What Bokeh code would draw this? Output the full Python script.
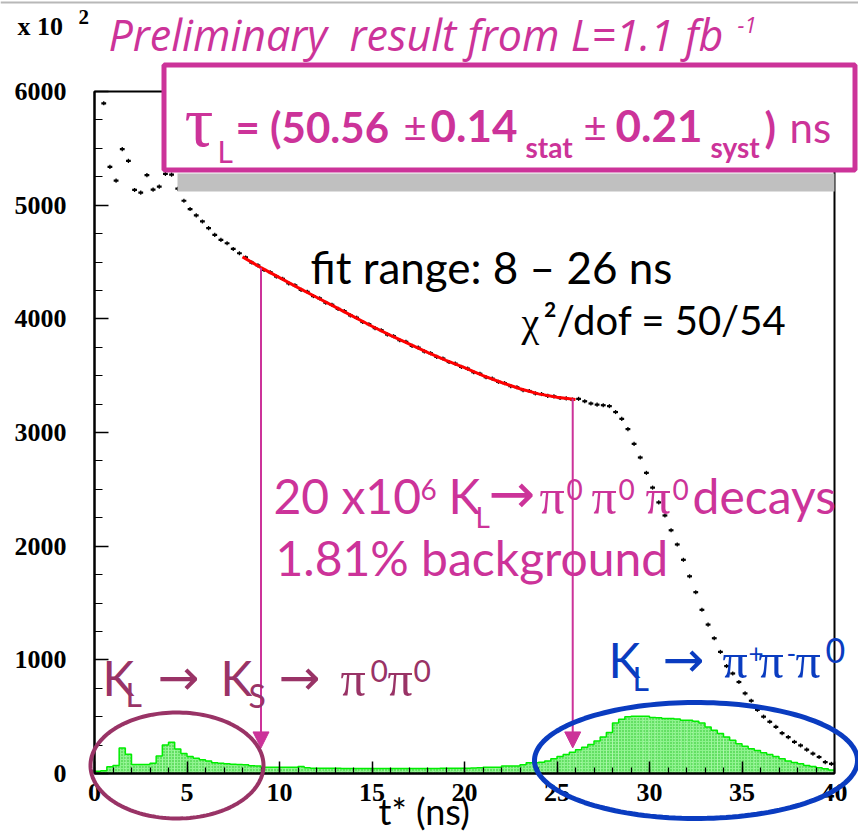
import numpy as np
from bokeh.plotting import figure
from bokeh.models import (Range1d, FixedTicker, Label, BoxAnnotation,
                          PolyAnnotation, Arrow, NormalHead)
from bokeh.embed import file_html
from bokeh.resources import INLINE

# ---------------- data ----------------
BIN_W = 1.0 / 3.0          # ns per bin
# K_L -> 3pi0 candidates, bins 1..119 (units of 10^2 events)
kl_counts = [
    5896, 5337, 5216, 5493, 5390, 5134, 5110, 5264, 5137, 5163, 5275, 5269,
    5145, 5039, 4966, 4910, 4857, 4798, 4739, 4695, 4665, 4615, 4577,
    4540, 4495, 4470, 4430, 4410, 4372, 4352, 4312, 4295, 4255, 4238, 4200,
    4180, 4142, 4124, 4088, 4068, 4030, 4010, 3972, 3953, 3918, 3900, 3862,
    3847, 3812, 3798, 3762, 3747, 3713, 3697, 3665, 3651, 3620, 3606, 3577,
    3562, 3530, 3517, 3486, 3474, 3446, 3434, 3408, 3398, 3373, 3365, 3344,
    3338, 3322, 3318, 3303, 3300, 3290,
    3296, 3275, 3255, 3245, 3240, 3232, 3180, 3120, 3030, 2900, 2780, 2645,
    2515, 2385, 2270, 2140, 2015, 1880, 1735, 1595, 1440, 1310, 1190, 1070,
    945, 880, 805, 705, 640, 560, 500, 455, 410, 355, 320, 278, 247, 210,
    175, 145, 100, 85]
# background (green histogram), bins 0..119
bkg_counts = [
    20, 25, 60, 70, 225, 170, 80, 80, 80, 90, 155, 250, 275, 215, 175, 150,
    135, 120, 110, 95, 90, 85, 82, 80, 78, 68, 65, 56, 56, 56, 56, 56, 56, 62,
    50,
    47, 47, 46, 46, 46, 45, 45, 45, 45, 45, 44, 44, 44, 44, 44, 44, 45, 45,
    45, 45, 45, 46, 46, 46, 47, 47, 48, 50,
    56, 56, 56, 65, 65, 65, 77, 95, 95, 100, 109, 130, 150, 168, 188, 209,
    232, 256, 285, 321, 360, 444, 477, 500, 504, 504, 504, 492, 490, 483, 483,
    480, 468, 468, 460, 444, 409, 380, 351, 321, 292, 262, 239, 218, 203, 183,
    168, 150, 130, 109, 97, 86, 71, 62, 50, 41, 30]
# fitted curve (red), 8 - 26 ns
fit_t = [8.0, 9, 10, 11, 12, 13, 14, 15, 16, 17, 18, 19, 20, 21, 22, 23, 24,
         25, 26]
fit_v = [4545, 4450, 4362, 4275, 4190, 4105, 4020, 3935, 3855, 3780, 3705,
         3635, 3570, 3500, 3440, 3385, 3340, 3310, 3290]
x_ticks = [0, 5, 10, 15, 20, 25, 30, 35, 40]
x_minor = list(range(0, 41))
y_ticks = [0, 1000, 2000, 3000, 4000, 5000, 6000]
y_minor = list(range(0, 6001, 250))
X_LIM = (0, 40)
Y_LIM = (0, 6000)
arrow_t = [9.0, 25.85]
arrow_top = [4450, 3296]
arrow_tip = 225

MAG = "#CC3399"
PUR = "#993366"
BLU = "#0A3CC0"

# ---------------- geometry of the page ----------------
W, H = 858, 838          # figure size (page has no margin in Bokeh's template)
PX0, PX1 = 94.0, 834.0   # page x of t=0 and t=40
PY0, PY1 = 773.0, 91.0   # page y of 0 and 6000


def dx(X):
    return X_LIM[0] + (X - PX0) * (X_LIM[1] - X_LIM[0]) / (PX1 - PX0)


def dy(Y):
    return Y_LIM[0] + (PY0 - Y) * (Y_LIM[1] - Y_LIM[0]) / (PY0 - PY1)


p = figure(width=W, height=H,
           x_range=Range1d(dx(0), dx(W)),
           y_range=Range1d(dy(H), dy(0)),
           output_backend="svg", toolbar_location=None,
           min_border_left=0, min_border_right=0, min_border_top=0,
           min_border_bottom=0)
p.grid.visible = False
p.outline_line_color = None
p.background_fill_color = "white"
p.border_fill_color = "white"

# green background histogram
edges = np.arange(len(bkg_counts) + 1) * BIN_W
bkg = np.array(bkg_counts, dtype=float)
p.quad(left=edges[:-1], right=edges[1:], bottom=0, top=bkg,
       fill_color="#8ef38e", line_color=None,
       hatch_pattern="dot", hatch_color="#22c022", hatch_scale=3,
       hatch_weight=1)
p.step(x=edges, y=np.append(bkg, bkg[-1]), mode="after",
       line_color="#00ee00", line_width=1.5)

# black data points
centers = (np.arange(1, len(kl_counts) + 1) + 0.5) * BIN_W
vals = np.array(kl_counts, dtype=float)
p.segment(x0=centers - 0.13, x1=centers + 0.13, y0=vals, y1=vals,
          line_color="black", line_width=2.2)
p.segment(x0=centers, x1=centers, y0=vals - 18, y1=vals + 18,
          line_color="black", line_width=1.3)

# red fit
p.line(fit_t, fit_v, line_color="red", line_width=3)

# axes, fixed at the data origin
xa = p.xaxis[0]
xa.ticker = FixedTicker(ticks=x_ticks, minor_ticks=x_minor)
xa.fixed_location = Y_LIM[0]
xa.bounds = X_LIM
ya = p.yaxis[0]
ya.ticker = FixedTicker(ticks=y_ticks, minor_ticks=y_minor)
ya.fixed_location = X_LIM[0]
ya.bounds = Y_LIM
for ax, mi, mn, so in ((xa, 12, 6, 10), (ya, 14, 8, 28)):
    ax.axis_line_width = 2
    ax.axis_line_color = "black"
    ax.major_tick_in = mi
    ax.major_tick_out = 0
    ax.minor_tick_in = mn
    ax.minor_tick_out = 0
    ax.major_tick_line_width = 1.5
    ax.minor_tick_line_width = 1.2
    ax.major_tick_line_color = "black"
    ax.minor_tick_line_color = "black"
    ax.major_label_text_font = "Liberation Serif"
    ax.major_label_text_font_style = "bold"
    ax.major_label_text_font_size = "26px"
    ax.major_label_text_color = "black"
    ax.major_label_standoff = so

# plot frame (top / right edges)
p.add_layout(BoxAnnotation(left=X_LIM[0], right=X_LIM[1], bottom=Y_LIM[0],
                           top=Y_LIM[1], fill_alpha=0, line_color="black",
                           line_alpha=1, line_width=2))
# thin grey slide line at the very top
p.add_layout(BoxAnnotation(left=dx(0), right=dx(W), top=dy(1), bottom=dy(3),
                           fill_color="#b8b8b8", fill_alpha=1, line_alpha=0))

# arrows
for t, top in zip(arrow_t, arrow_top):
    p.add_layout(Arrow(x_start=t, y_start=top, x_end=t, y_end=arrow_tip,
                       line_color=MAG, line_width=2,
                       end=NormalHead(size=16, fill_color=MAG, line_color=MAG)))

# ellipses
th = np.linspace(0, 2 * np.pi, 160)
for cx, cy, a, b, col, lw in ((176.5, 765, 86.5, 53, PUR, 4),
                              (695.5, 760, 161.5, 58, BLU, 5)):
    XX = cx + a * np.cos(th)
    YY = cy + b * np.sin(th)
    p.add_layout(PolyAnnotation(xs=list(dx(XX)), ys=list(dy(YY)),
                                fill_alpha=0, line_color=col, line_alpha=1,
                                line_width=lw))

# grey shadow and result box
p.add_layout(BoxAnnotation(left=dx(177), right=dx(834), top=dy(173),
                           bottom=dy(191), fill_color="#c0c0c0", fill_alpha=1,
                           line_alpha=0))
p.add_layout(BoxAnnotation(left=dx(163.5), right=dx(854.5), top=dy(64.5),
                           bottom=dy(169.5), fill_color="white", fill_alpha=1,
                           line_color=MAG, line_alpha=1, line_width=5))

# baseline correction: labels are rendered centred on their y
SHIFT = {"Lato": 0.38, "Open Sans": 0.38, "Liberation Serif": 0.33,
         "DejaVu Sans": 0.35}


def lab(text, X, Y, size, color, style="normal", font="Lato"):
    s = float(size.replace("px", ""))
    Yc = Y - SHIFT[font] * s
    p.add_layout(Label(x=dx(X), y=dy(Yc), text=text, text_font=font,
                       text_font_size=size, text_font_style=style,
                       text_color=color, text_align="left",
                       text_baseline="alphabetic"))


SERIF = "Liberation Serif"
ARR = "DejaVu Sans"
# title & scale
lab("x 10", 17, 35, "26px", "black", "bold", SERIF)
lab("2", 78, 23, "21px", "black", "bold", SERIF)
lab("Preliminary\u00a0 result from L=1.1 fb", 108, 50, "43px", MAG, "italic",
    "Open Sans")
lab("-1", 737, 33, "22px", MAG, "italic", "Open Sans")

# box contents
lab("\u03c4", 184, 145, "72px", MAG, "normal", SERIF)
lab("L", 217, 162, "30px", MAG)
lab("= (50.56", 235, 142, "42px", MAG, "bold")
lab("\u00b1", 403, 142, "40px", MAG)
lab("0.14", 430, 142, "44px", MAG, "bold")
lab("stat", 525, 157, "28px", MAG, "bold")
lab("\u00b1", 583, 142, "40px", MAG)
lab("0.21", 615, 142, "44px", MAG, "bold")
lab("syst", 710, 157, "28px", MAG, "bold")
lab(")", 764, 142, "42px", MAG, "bold")
lab("ns", 789, 142, "42px", MAG)

# fit text
lab("fit range: 8 \u2013 26 ns", 310, 283, "44px", "black")
lab("\u03c7", 521, 335, "40px", "black", "normal", SERIF)
lab("\u00b2/dof = 50/54", 543, 335, "40px", "black")

# statistics text
lab("20 x10", 273, 513, "48px", MAG)
lab("6", 420, 500, "28px", MAG)
lab("K", 448, 513, "48px", MAG)
lab("L", 475, 527, "28px", MAG)
lab("\u2192", 488, 513, "56px", MAG, "normal", ARR)
for xp, xs in ((539, 566), (591, 618), (645, 672)):
    lab("\u03c0", xp, 513, "50px", MAG, "normal", SERIF)
    lab("0", xs, 500, "28px", MAG)
lab("decays", 692, 513, "48px", MAG)
lab("1.81% background", 275, 575, "48px", MAG)

# K_L -> K_S -> pi0 pi0
lab("K", 102, 695, "48px", PUR)
lab("L", 125, 706, "32px", PUR)
lab("\u2192", 157, 695, "50px", PUR, "normal", ARR)
lab("K", 220, 695, "48px", PUR)
lab("S", 248, 707, "32px", PUR)
lab("\u2192", 278, 695, "50px", PUR, "normal", ARR)
lab("\u03c0", 340, 695, "50px", PUR, "normal", SERIF)
lab("0", 370, 682, "30px", PUR)
lab("\u03c0", 387, 695, "50px", PUR, "normal", SERIF)
lab("0", 413, 682, "30px", PUR)

# K_L -> pi+ pi- pi0
lab("K", 608, 677, "48px", BLU)
lab("L", 632, 690, "32px", BLU)
lab("\u2192", 662, 677, "50px", BLU, "normal", ARR)
lab("\u03c0", 722, 677, "50px", BLU, "normal", SERIF)
lab("+", 748, 662, "26px", BLU)
lab("\u03c0", 758, 677, "50px", BLU, "normal", SERIF)
lab("-", 786, 662, "26px", BLU)
lab("\u03c0", 795, 677, "50px", BLU, "normal", SERIF)
lab("0", 825, 663, "34px", BLU)

# axis title
lab("t* (ns)", 378, 824, "36px", "black")

open("out.html", "w").write(file_html(p, INLINE))
